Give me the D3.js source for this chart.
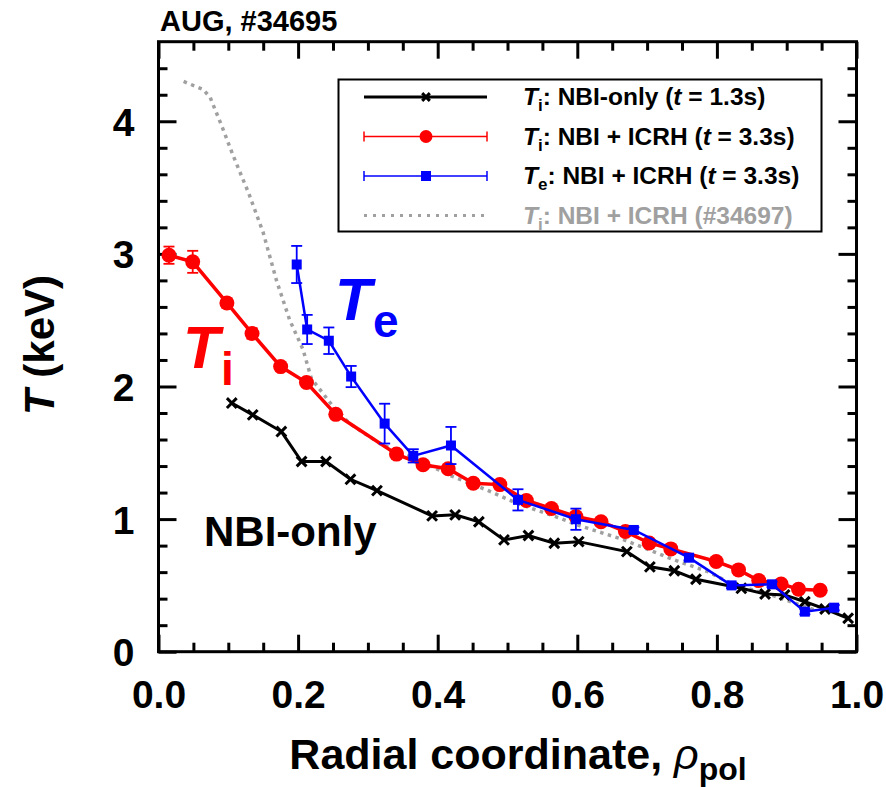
<!DOCTYPE html>
<html>
<head>
<meta charset="utf-8">
<script src="https://cdn.jsdelivr.net/npm/d3@7"></script>
<style>
  html, body { margin: 0; padding: 0; background: #fff; }
  svg { display: block; font-family: "Liberation Sans", Arial, Helvetica, sans-serif; font-weight: bold; }
</style>
</head>
<body>
<svg id="chart" width="886" height="787"></svg>
<script>
// Ion and electron temperature profiles, AUG #34695
const rhoNBI = [0.105,0.135,0.176,0.205,0.240,0.275,0.313,0.392,0.425,0.459,0.495,0.530,0.567,0.602,0.671,0.704,0.739,0.770,0.835,0.869,0.897,0.926,0.955,0.988];
const tiNBI  = [1.875,1.786,1.66,1.434,1.434,1.30,1.215,1.024,1.032,0.98,0.843,0.876,0.818,0.83,0.755,0.64,0.61,0.546,0.478,0.435,0.428,0.377,0.322,0.252];

const rhoTi  = [0.015,0.049,0.098,0.134,0.175,0.212,0.254,0.341,0.379,0.415,0.451,0.489,0.527,0.563,0.598,0.634,0.669,0.703,0.734,0.799,0.831,0.860,0.892,0.917,0.948];
const tiICRH = [2.99,2.94,2.63,2.40,2.15,2.03,1.79,1.49,1.41,1.38,1.27,1.26,1.14,1.08,1.02,0.98,0.906,0.82,0.775,0.68,0.617,0.536,0.511,0.471,0.463];
const tiErr  = [0.065,0.083,0.035,0.04,0.02,0.025,0.02,0.02,0.02,0.02,0.02,0.02,0.02,0.02,0.02,0.02,0.02,0.02,0.02,0.02,0.02,0.02,0.02,0.02,0.02];

const rhoTe  = [0.198,0.213,0.244,0.276,0.324,0.365,0.419,0.515,0.598,0.681,0.760,0.821,0.879,0.926,0.968];
const teICRH = [2.92,2.43,2.345,2.075,1.72,1.477,1.555,1.145,0.999,0.918,0.709,0.50,0.508,0.302,0.332];
const teErr  = [0.14,0.11,0.10,0.08,0.15,0.05,0.14,0.08,0.08,0.02,0.02,0.02,0.02,0.02,0.02];

const rhoRef = [0.036,0.064,0.074,0.091,0.107,0.129,0.150,0.169,0.188,0.207,0.219,0.250,0.274,0.317,0.365,0.422,0.470,0.513,0.575,0.600,0.667,0.739,0.787,0.825,0.878,0.940];
const tiRef  = [4.30,4.24,4.18,3.96,3.74,3.46,3.16,2.80,2.50,2.28,2.06,1.85,1.72,1.57,1.46,1.32,1.22,1.12,1.007,0.956,0.843,0.692,0.604,0.503,0.428,0.315];

const xMajorTicks = [0, 0.2, 0.4, 0.6, 0.8, 1.0];
const xMinorTicks = d3.range(0, 20).map(i => i * 0.05).filter(v => Math.abs(v * 5 - Math.round(v * 5)) > 1e-6);
const yMajorTicks = [0, 1, 2, 3, 4];
const yMinorTicks = d3.range(0, 23).map(i => i * 0.2).filter(v => Math.abs(v - Math.round(v)) > 1e-6);

const colNBI = "#000000", colTi = "#ff0000", colTe = "#0000ff", colRef = "#a0a0a0";

const svg = d3.select("#chart");
const L = 158.5, R = 856.5, T = 41.7, B = 651.7;
const x = d3.scaleLinear().domain([0, 1]).range([L, R]);
const y = d3.scaleLinear().domain([0, 4.6]).range([B, T]);

// axes with inward ticks on all four sides
function styleAxis(g) {
  g.select(".domain").remove();
  g.selectAll(".tick line").attr("stroke", "#000").attr("stroke-width", 3);
}
const fmtX = d3.format(".1f");
svg.append("g").attr("transform", `translate(0,${B})`)
  .call(d3.axisBottom(x).tickValues(xMajorTicks).tickSize(-17).tickPadding(0).tickFormat(fmtX))
  .call(styleAxis)
  .call(g => g.selectAll("text").attr("y", 56).attr("dy", null).attr("font-size", 39).attr("font-weight", "bold").attr("fill", "#000").attr("font-family", "Liberation Sans, Arial, sans-serif"));
svg.append("g").attr("transform", `translate(0,${B})`)
  .call(d3.axisBottom(x).tickValues(xMinorTicks).tickSize(-9).tickFormat(""))
  .call(styleAxis);
svg.append("g").attr("transform", `translate(0,${T})`)
  .call(d3.axisTop(x).tickValues(xMajorTicks).tickSize(-17).tickFormat(""))
  .call(styleAxis);
svg.append("g").attr("transform", `translate(0,${T})`)
  .call(d3.axisTop(x).tickValues(xMinorTicks).tickSize(-9).tickFormat(""))
  .call(styleAxis);
svg.append("g").attr("transform", `translate(${L},0)`)
  .call(d3.axisLeft(y).tickValues(yMajorTicks).tickSize(-18).tickPadding(0).tickFormat(d3.format("d")))
  .call(styleAxis)
  .call(g => g.selectAll("text").attr("x", -24).attr("dy", "0.36em").attr("font-size", 39).attr("font-weight", "bold").attr("fill", "#000").attr("font-family", "Liberation Sans, Arial, sans-serif"));
svg.append("g").attr("transform", `translate(${L},0)`)
  .call(d3.axisLeft(y).tickValues(yMinorTicks).tickSize(-9).tickFormat(""))
  .call(styleAxis);
svg.append("g").attr("transform", `translate(${R},0)`)
  .call(d3.axisRight(y).tickValues(yMajorTicks).tickSize(-18).tickFormat(""))
  .call(styleAxis);
svg.append("g").attr("transform", `translate(${R},0)`)
  .call(d3.axisRight(y).tickValues(yMinorTicks).tickSize(-9).tickFormat(""))
  .call(styleAxis);

svg.append("rect").attr("x", L).attr("y", T).attr("width", R - L).attr("height", B - T)
  .attr("fill", "none").attr("stroke", "#000").attr("stroke-width", 3);

const line = d3.line().x(d => x(d[0])).y(d => y(d[1]));
const plot = svg.append("g");

// reference discharge #34697 (dotted)
plot.append("path").datum(d3.zip(rhoRef, tiRef)).attr("d", line)
  .attr("fill", "none").attr("stroke", colRef).attr("stroke-width", 3.5).attr("stroke-dasharray", "3.5,4.5");

// NBI-only Ti
plot.append("path").datum(d3.zip(rhoNBI, tiNBI)).attr("d", line)
  .attr("fill", "none").attr("stroke", colNBI).attr("stroke-width", 3);
const cross = d3.symbol().type(d3.symbolX).size(64);
plot.append("g").selectAll("path").data(d3.zip(rhoNBI, tiNBI)).join("path")
  .attr("transform", d => `translate(${x(d[0])},${y(d[1])})`)
  .attr("d", cross).attr("fill", "none").attr("stroke", colNBI).attr("stroke-width", 3);

// error bars
function errorBars(rho, val, err, col) {
  const g = plot.append("g").attr("stroke", col).attr("stroke-width", 1.8);
  const data = d3.zip(rho, val, err);
  g.selectAll("line.v").data(data).join("line")
    .attr("x1", d => x(d[0])).attr("x2", d => x(d[0]))
    .attr("y1", d => y(d[1] - d[2])).attr("y2", d => y(d[1] + d[2]));
  g.selectAll("line.t").data(data).join("line")
    .attr("x1", d => x(d[0]) - 5.5).attr("x2", d => x(d[0]) + 5.5)
    .attr("y1", d => y(d[1] + d[2])).attr("y2", d => y(d[1] + d[2]));
  g.selectAll("line.b").data(data).join("line")
    .attr("x1", d => x(d[0]) - 5.5).attr("x2", d => x(d[0]) + 5.5)
    .attr("y1", d => y(d[1] - d[2])).attr("y2", d => y(d[1] - d[2]));
}

// NBI + ICRH Ti
errorBars(rhoTi, tiICRH, tiErr, colTi);
plot.append("path").datum(d3.zip(rhoTi, tiICRH)).attr("d", line)
  .attr("fill", "none").attr("stroke", colTi).attr("stroke-width", 3.5);
plot.append("g").selectAll("circle").data(d3.zip(rhoTi, tiICRH)).join("circle")
  .attr("cx", d => x(d[0])).attr("cy", d => y(d[1])).attr("r", 7.5).attr("fill", colTi);

// NBI + ICRH Te
errorBars(rhoTe, teICRH, teErr, colTe);
plot.append("path").datum(d3.zip(rhoTe, teICRH)).attr("d", line)
  .attr("fill", "none").attr("stroke", colTe).attr("stroke-width", 2.5);
plot.append("g").selectAll("rect").data(d3.zip(rhoTe, teICRH)).join("rect")
  .attr("x", d => x(d[0]) - 5).attr("y", d => y(d[1]) - 5).attr("width", 10).attr("height", 10).attr("fill", colTe);

// in-plot labels
const lab = svg.append("g");
lab.append("text").attr("x", 183).attr("y", 368).attr("fill", colTi).attr("font-size", 60)
  .attr("font-style", "italic").text("T");
lab.append("text").attr("x", 221).attr("y", 385).attr("fill", colTi).attr("font-size", 46).text("i");
lab.append("text").attr("x", 335).attr("y", 320).attr("fill", colTe).attr("font-size", 60)
  .attr("font-style", "italic").text("T");
lab.append("text").attr("x", 373).attr("y", 337).attr("fill", colTe).attr("font-size", 46).text("e");
lab.append("text").attr("x", 204).attr("y", 546).attr("fill", "#000").attr("font-size", 42).text("NBI-only");

// title
svg.append("text").attr("x", 160).attr("y", 31).attr("font-size", 29).attr("fill", "#000").text("AUG, #34695");

// axis titles
const yt = svg.append("text").attr("transform", "translate(54,345) rotate(-90)")
  .attr("text-anchor", "middle").attr("font-size", 42).attr("fill", "#000");
yt.append("tspan").attr("font-style", "italic").text("T");
yt.append("tspan").text(" (keV)");
const xt = svg.append("text").attr("x", 518).attr("y", 769).attr("text-anchor", "middle")
  .attr("font-size", 43).attr("fill", "#000");
xt.append("tspan").text("Radial coordinate, ");
xt.append("tspan").attr("font-style", "italic").attr("font-weight", "normal").text("ρ");
xt.append("tspan").attr("font-size", 32).attr("dy", 11).text("pol");

// legend
const lg = svg.append("g");
lg.append("rect").attr("x", 338.5).attr("y", 79.5).attr("width", 483).attr("height", 152)
  .attr("fill", "#fff").attr("stroke", "#000").attr("stroke-width", 2);
const entries = [
  { key: "nbi", sym: "T", sub: "i", text: ": NBI-only (", t: "t", rest: " = 1.3s)", col: colNBI },
  { key: "ti", sym: "T", sub: "i", text: ": NBI + ICRH (", t: "t", rest: " = 3.3s)", col: colTi },
  { key: "te", sym: "T", sub: "e", text: ": NBI + ICRH (", t: "t", rest: " = 3.3s)", col: colTe },
  { key: "ref", sym: "T", sub: "i", text: ": NBI + ICRH (#34697)", t: "", rest: "", col: colRef }
];
const lx0 = 364, lx1 = 487, lxm = 426;
entries.forEach((e, i) => {
  const yy = 97 + i * 39.5;
  const g = lg.append("g");
  if (e.key === "nbi") {
    g.append("line").attr("x1", lx0).attr("x2", lx1).attr("y1", yy).attr("y2", yy).attr("stroke", e.col).attr("stroke-width", 3);
    g.append("path").attr("transform", `translate(${lxm},${yy})`).attr("d", d3.symbol().type(d3.symbolX).size(40)).attr("stroke", e.col).attr("stroke-width", 3).attr("fill", "none");
  } else if (e.key === "ref") {
    g.append("line").attr("x1", lx0).attr("x2", lx1).attr("y1", yy).attr("y2", yy).attr("stroke", e.col).attr("stroke-width", 3).attr("stroke-dasharray", "3,6");
  } else {
    g.append("line").attr("x1", lx0).attr("x2", lx1).attr("y1", yy).attr("y2", yy).attr("stroke", e.col).attr("stroke-width", 1.5);
    [lx0, lx1].forEach(cx => g.append("line").attr("x1", cx).attr("x2", cx).attr("y1", yy - 5).attr("y2", yy + 5).attr("stroke", e.col).attr("stroke-width", 1.5));
    if (e.key === "ti") g.append("circle").attr("cx", lxm).attr("cy", yy).attr("r", 6.5).attr("fill", e.col);
    else g.append("rect").attr("x", lxm - 5).attr("y", yy - 5).attr("width", 10).attr("height", 10).attr("fill", e.col);
  }
  const tx = g.append("text").attr("x", 523).attr("y", yy + 8).attr("font-size", 24.5)
    .attr("fill", e.key === "ref" ? colRef : "#000");
  tx.append("tspan").attr("font-style", "italic").text(e.sym);
  tx.append("tspan").attr("font-size", 17).attr("dy", 6).text(e.sub);
  tx.append("tspan").attr("dy", -6).text(e.text);
  if (e.t) {
    tx.append("tspan").attr("font-style", "italic").text(e.t);
    tx.append("tspan").text(e.rest);
  }
});
</script>
</body>
</html>
